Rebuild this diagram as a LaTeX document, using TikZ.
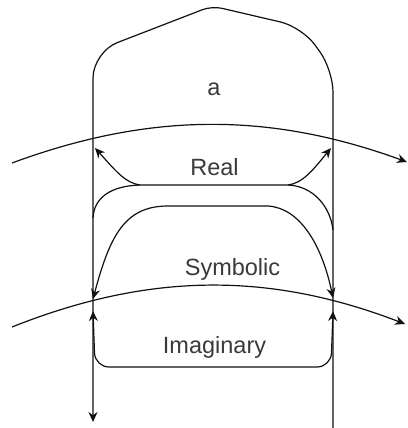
\documentclass[tikz,border=0pt]{standalone}
\usepackage{fontspec}
\setmainfont{Liberation Sans}
\usepackage{tikz}
\usetikzlibrary{arrows.meta}
\usepackage{xcolor}
\definecolor{ink}{HTML}{3A3A3A}
\definecolor{wire}{HTML}{111111}
\newcommand{\lab}{\fontsize{23.5}{28}\selectfont}

\begin{document}
\begin{tikzpicture}[x=1pt, y=-1pt,
  every node/.style={inner sep=0pt, text=ink, font=\lab},
  wire/.style={draw=wire, line width=1.2pt},
  tip/.style={-{Stealth[length=10pt, width=9pt]}},
  tips/.style={{Stealth[length=10pt, width=9pt]}-{Stealth[length=10pt, width=9pt]}}]
\useasboundingbox (0,0) rectangle (407,428);
% 1. the dome: right wall, cap, left wall running down to the arrow
\draw[wire, tip, rounded corners=22pt] (333,428) -- (333,70) -- (302,27)
  [rounded corners=10pt] -- (212,6) [rounded corners=26pt] -- (93,52) -- (93,422);
% 2. the two crossing arcs
\draw[wire, tip] (12,163) .. controls (150,112) and (270,112) .. (407,162);
\draw[wire, tip] (12,327) .. controls (150,272) and (270,272) .. (405,324);
% 3. Real: flat top, shoulders down into the walls, arrows up to the upper arc
\coordinate (rl) at (140,185);
\coordinate (rr) at (288,185);
\draw[wire] (93,218) .. controls (94,198) and (110,186) .. (rl) -- (rr)
  .. controls (312,186) and (330,205) .. (333,230);
\draw[wire, tip] (rl) .. controls (125,183) and (115,170) .. (95,148);
\draw[wire, tip] (rr) .. controls (303,183) and (313,170) .. (331,148);
% 4. Symbolic: arch ending in arrows on the walls
\draw[wire, tips] (93,299) .. controls (110,235) and (125,207) .. (166,206) -- (268,206)
  .. controls (300,208) and (322,245) .. (333,298);
% 5. Imaginary: rounded cup starting from arrows on the walls
\draw[wire, tips, rounded corners=14pt] (93,311) -- (95,367) -- (331,367) -- (333,311);
% 6. labels
\node[anchor=base] (atext) at (214,95) {a};
\node[anchor=base] (real) at (214.5,175) {Real};
\node[anchor=base] (symbolic) at (232.5,275) {Symbolic};
\node[anchor=base] (imaginary) at (214.5,353) {Imaginary};
\end{tikzpicture}
\end{document}
